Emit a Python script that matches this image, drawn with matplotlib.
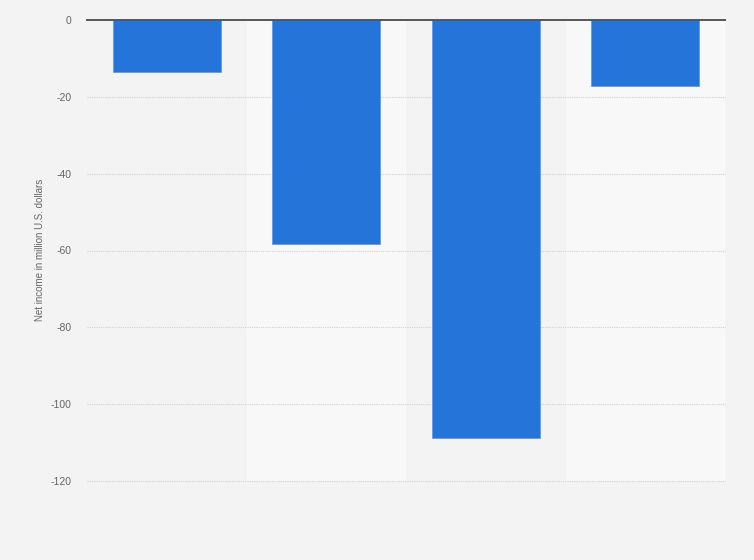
import matplotlib
matplotlib.use("Agg")
import matplotlib.pyplot as plt

# values (million U.S. dollars)
categories = ["A", "B", "C", "D"]
net_income = [-13.6, -58.3, -108.8, -17.2]
y_ticks = [0, -20, -40, -60, -80, -100, -120]

plt.rcParams["font.family"] = ["Liberation Sans", "DejaVu Sans"]

fig = plt.figure(figsize=(7.54, 5.6), dpi=100)
fig.patch.set_facecolor("#f3f3f3")
ax = fig.add_axes([87 / 754, 79 / 560, 638 / 754, 461 / 560])
ax.set_facecolor("#f3f3f3")

x = list(range(len(categories)))

# alternating column bands
for i in x:
    if i % 2 == 1:
        ax.axvspan(i - 0.5, i + 0.5, color="#f8f8f8", zorder=0, lw=0)

for t in y_ticks[1:]:
    ax.axhline(t, color="#d0d0d0", lw=0.8, ls=(0, (1, 1)), zorder=1, clip_on=False)

ax.bar(x, net_income, width=0.68, color="#2574d9",
       edgecolor="#5b9cf0", linewidth=0.6, zorder=2)
ax.axhline(0, color="#555555", lw=1.4, zorder=3, clip_on=False)

ax.set_xlim(-0.5, len(categories) - 0.5)
ax.set_ylim(-120, 0)
ax.set_yticks(y_ticks)
ax.set_yticklabels([str(t) for t in y_ticks])
ax.set_xticks([])
ax.tick_params(axis="y", length=0, pad=11, labelsize=7.5, labelcolor="#666666")
for s in ax.spines.values():
    s.set_visible(False)

fig.text(40 / 754, 1 - 250 / 560, "Net income in million U.S. dollars",
         rotation=90, ha="center", va="center", fontsize=7, color="#666666")

fig.savefig("out.png", dpi=100, facecolor=fig.get_facecolor())
